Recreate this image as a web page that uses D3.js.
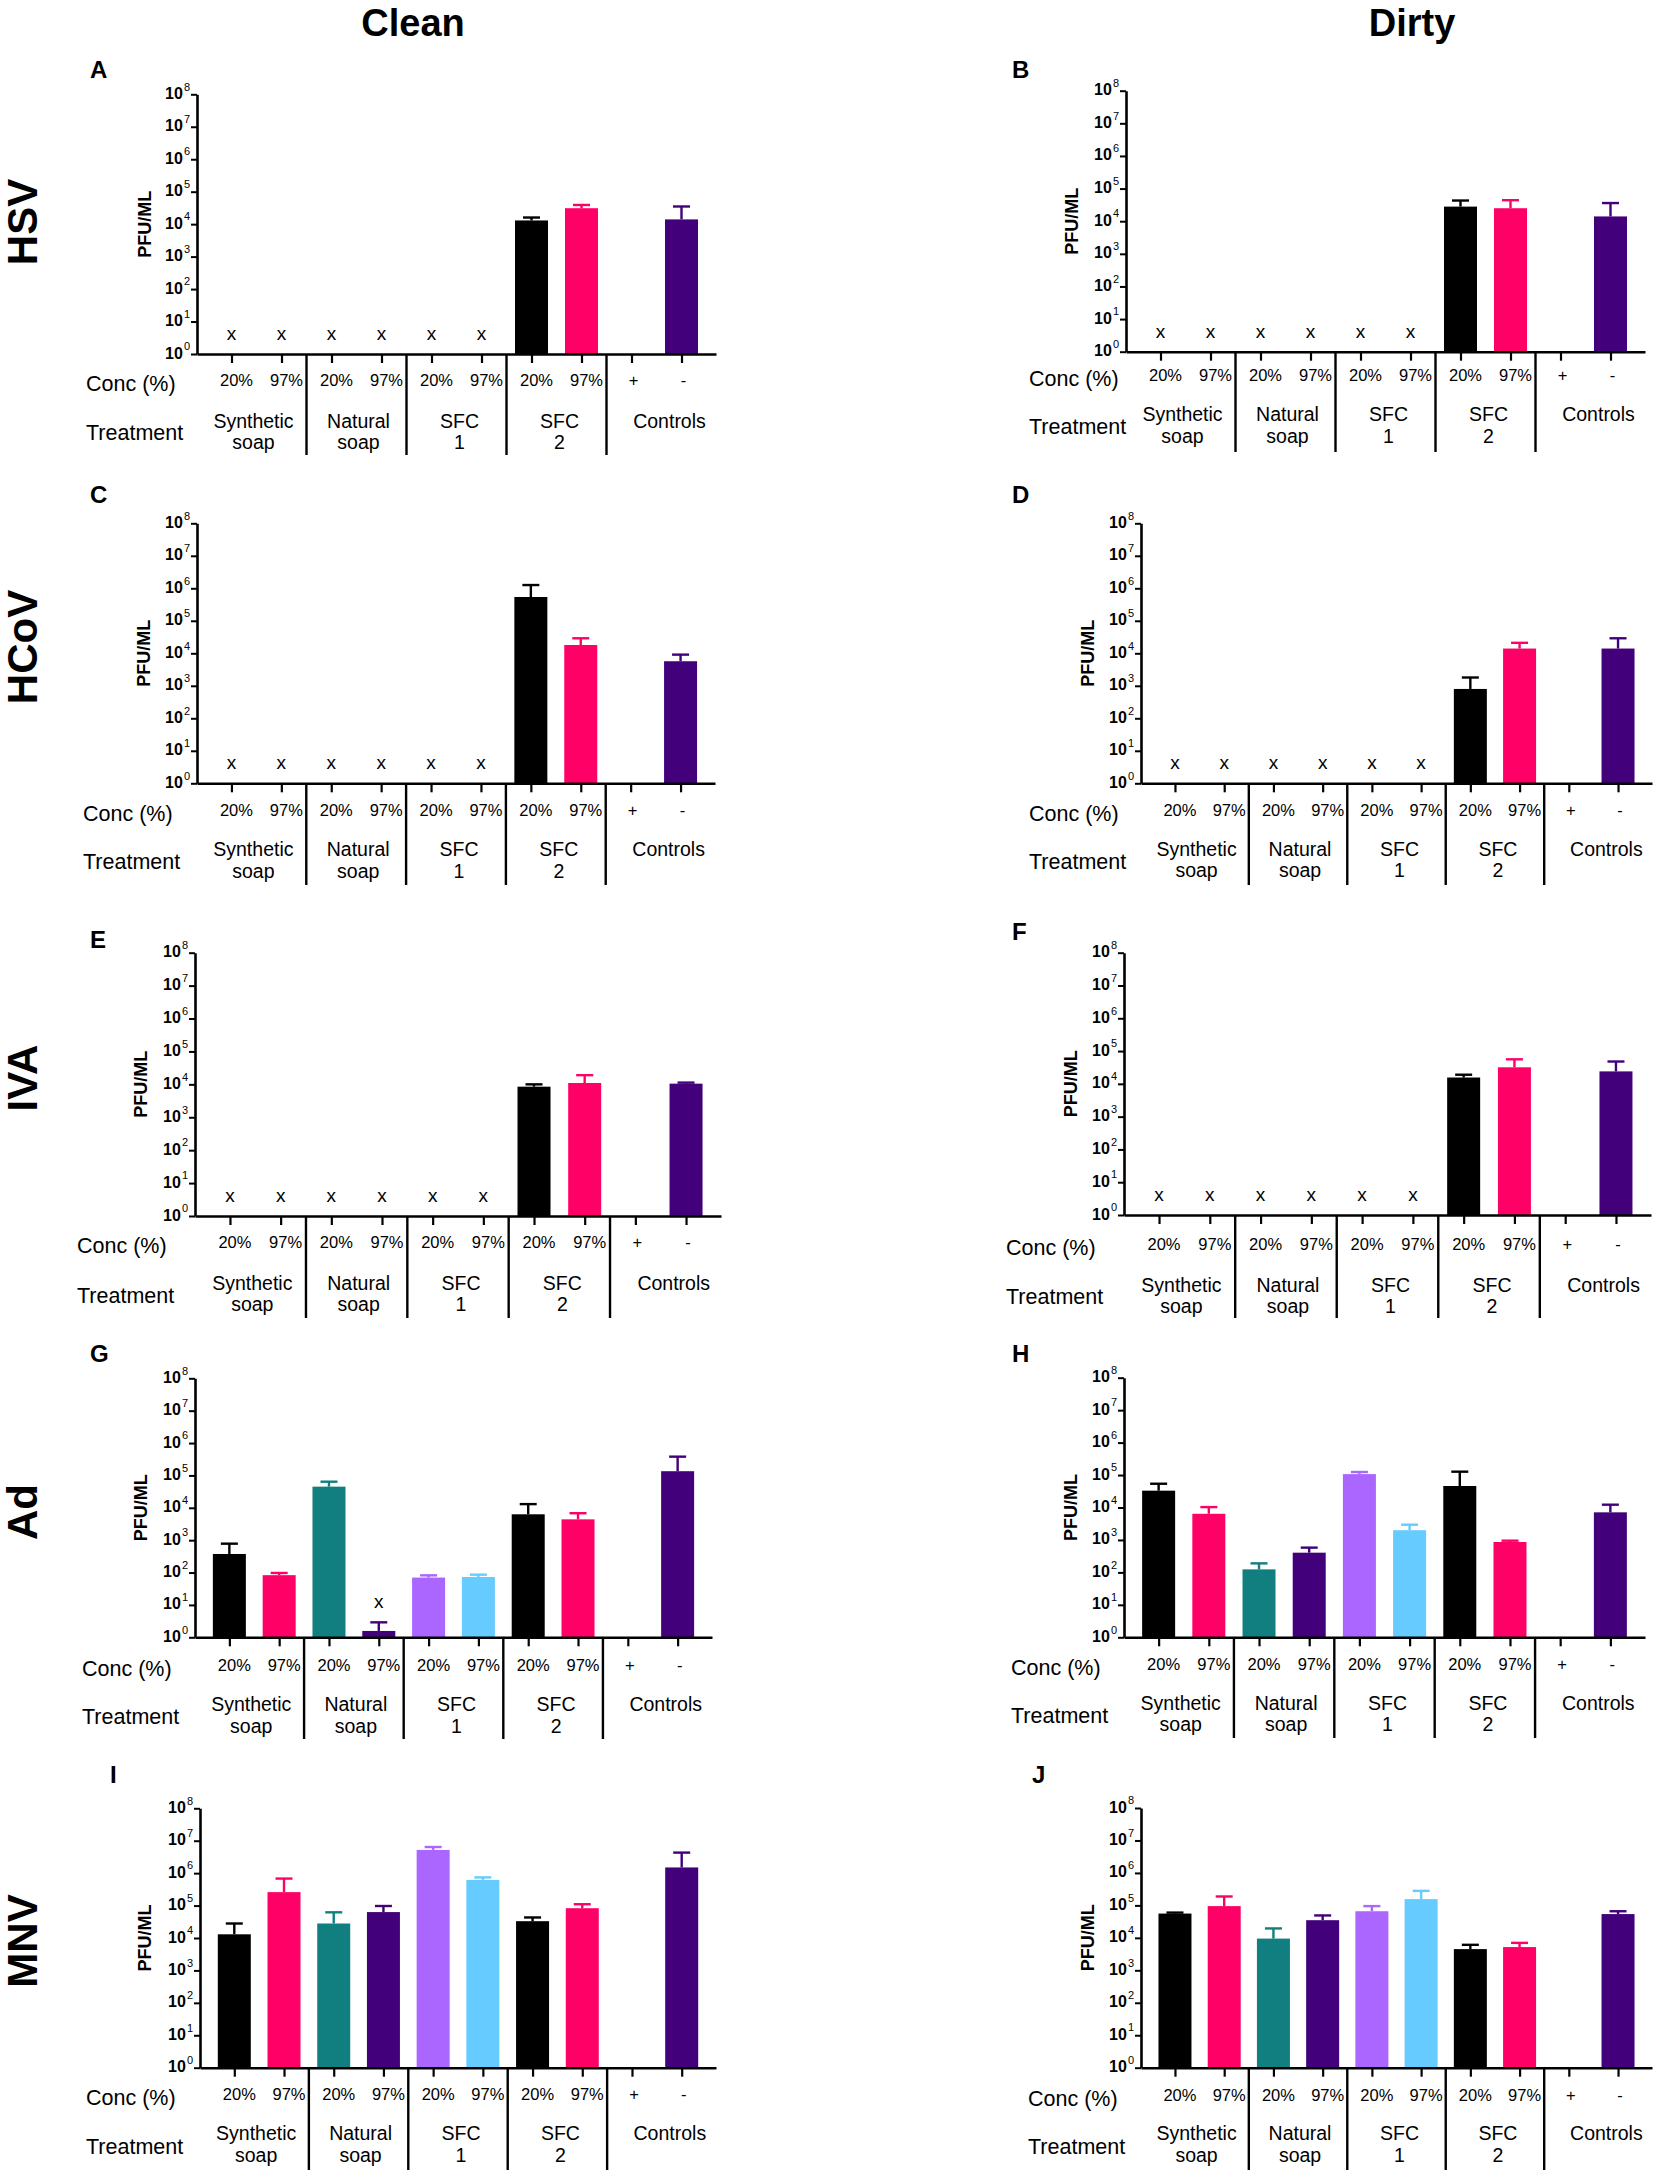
<!DOCTYPE html>
<html>
<head>
<meta charset="utf-8">
<script src="https://cdn.jsdelivr.net/npm/d3@7"></script>
<style>
  body { margin: 0; background: #fff; }
  text { font-family: "Liberation Sans", Arial, sans-serif; fill: #000; }
</style>
</head>
<body>
<svg id="chart" width="1654" height="2170"></svg>
<script>
// categories along every x axis
const categories = ["syn20", "syn97", "nat20", "nat97", "sfc1_20", "sfc1_97", "sfc2_20", "sfc2_97", "ctrlPos", "ctrlNeg"];
const concLabels = ["20%", "97%", "20%", "97%", "20%", "97%", "20%", "97%", "+", "-"];
const treatmentGroups = [["Synthetic", "soap"], ["Natural", "soap"], ["SFC", "1"], ["SFC", "2"], ["Controls"]];
const barColors = ["#000000", "#ff0066", "#117f7f", "#42007a", "#aa66ff", "#66ccff", "#000000", "#ff0066", "#42007a", "#42007a"];
const yTicks = [0, 1, 2, 3, 4, 5, 6, 7, 8];
const columnTitles = ["Clean", "Dirty"];
const virusNames = ["HSV", "HCoV", "IVA", "Ad", "MNV"];
const panelLetters = ["A", "B", "C", "D", "E", "F", "G", "H", "I", "J"];

// PFU/ML means and error tops (null = no bar)
const hsvClean    = [null, null, null, null, null, null, 1.3e4, 3.1e4, null, 1.4e4];
const hsvCleanErr = [null, null, null, null, null, null, 1.6e4, 3.9e4, null, 3.5e4];
const hsvDirty    = [null, null, null, null, null, null, 2.8e4, 2.5e4, null, 1.4e4];
const hsvDirtyErr = [null, null, null, null, null, null, 4.3e4, 4.4e4, null, 3.6e4];
const hcovClean    = [null, null, null, null, null, null, 5.4e5, 1.8e4, null, 5.7e3];
const hcovCleanErr = [null, null, null, null, null, null, 1.26e6, 2.9e4, null, 9.1e3];
const hcovDirty    = [null, null, null, null, null, null, 8.0e2, 1.4e4, null, 1.4e4];
const hcovDirtyErr = [null, null, null, null, null, null, 1.8e3, 2.1e4, null, 2.9e4];
const ivaClean    = [null, null, null, null, null, null, 8.5e3, 1.1e4, null, 1.05e4];
const ivaCleanErr = [null, null, null, null, null, null, 1.0e4, 1.9e4, null, 1.13e4];
const ivaDirty    = [null, null, null, null, null, null, 1.56e4, 3.2e4, null, 2.4e4];
const ivaDirtyErr = [null, null, null, null, null, null, 1.9e4, 5.6e4, null, 4.8e4];
const adClean    = [375, 83, 4.5e4, 1.57, 70, 73, 6.3e3, 4.4e3, null, 1.35e5];
const adCleanErr = [780, 97, 6.4e4, 2.9, 82, 86, 1.3e4, 6.8e3, null, 3.8e5];
const adDirty    = [3.3e4, 6.4e3, 124, 405, 1.07e5, 2.0e3, 4.6e4, 865, null, 7.1e3];
const adDirtyErr = [5.4e4, 1.03e4, 190, 580, 1.24e5, 2.95e3, 1.27e5, 950, null, 1.22e4];
const mnvClean    = [1.3e4, 2.6e5, 2.8e4, 6.3e4, 5.2e6, 6.2e5, 3.3e4, 8.3e4, null, 1.5e6];
const mnvCleanErr = [2.8e4, 6.8e5, 6.2e4, 9.7e4, 6.4e6, 7.4e5, 4.3e4, 1.1e5, null, 4.3e6];
const mnvDirty    = [5.6e4, 9.5e4, 9.5e3, 3.5e4, 6.6e4, 1.56e5, 4.5e3, 5.2e3, null, 5.4e4];
const mnvDirtyErr = [6.0e4, 1.88e5, 1.95e4, 4.9e4, 9.5e4, 2.8e5, 6.1e3, 7.0e3, null, 6.6e4];

// categories marked "x" (below detection)
const notDetectedAll = ["syn20", "syn97", "nat20", "nat97", "sfc1_20", "sfc1_97"];
const notDetectedAdClean = ["nat97"];
const notDetectedNone = [];

// panel geometry (pixels)
const layout = [
  { left: 197, right: 716, top: 94.3, bottom: 354, conc: 383, treat: 432, g1: 421, g2: 442, div: 455, textX: 86, lx: 90, ly: 78, pfuX: 145 },
  { left: 1126, right: 1645, top: 90.7, bottom: 351.7, conc: 378, treat: 426, g1: 414, g2: 436, div: 452, textX: 1029, lx: 1012, ly: 78, pfuX: 1072 },
  { left: 197, right: 715, top: 523.3, bottom: 783.3, conc: 813, treat: 861, g1: 849, g2: 871, div: 885, textX: 83, lx: 90, ly: 503, pfuX: 144 },
  { left: 1141, right: 1652, top: 523.3, bottom: 783.3, conc: 813, treat: 861, g1: 849, g2: 870, div: 885, textX: 1029, lx: 1012, ly: 503, pfuX: 1088 },
  { left: 195, right: 721, top: 952.7, bottom: 1216, conc: 1245, treat: 1295, g1: 1283, g2: 1304, div: 1318, textX: 77, lx: 90, ly: 948, pfuX: 141 },
  { left: 1124, right: 1651, top: 952.7, bottom: 1215, conc: 1247, treat: 1296, g1: 1285, g2: 1306, div: 1318, textX: 1006, lx: 1012, ly: 940, pfuX: 1071 },
  { left: 195, right: 712, top: 1378.3, bottom: 1637.3, conc: 1668, treat: 1716, g1: 1704, g2: 1726, div: 1739, textX: 82, lx: 90, ly: 1362, pfuX: 141 },
  { left: 1124, right: 1645, top: 1377.7, bottom: 1637.3, conc: 1667, treat: 1715, g1: 1703, g2: 1724, div: 1738, textX: 1011, lx: 1012, ly: 1362, pfuX: 1071 },
  { left: 200, right: 716, top: 1808.3, bottom: 2067.7, conc: 2097, treat: 2146, g1: 2133, g2: 2155, div: 2170, textX: 86, lx: 110, ly: 1783, pfuX: 145 },
  { left: 1141, right: 1652, top: 1808, bottom: 2067.7, conc: 2098, treat: 2146, g1: 2133, g2: 2155, div: 2170, textX: 1028, lx: 1032, ly: 1783, pfuX: 1088 },
];
const rowLabelY = [222, 647, 1078, 1512, 1941];
const titleX = [413, 1412];
const groupShift = [-3, 2, 3, 3, 13];

const panelData = [
  [hsvClean, hsvCleanErr, notDetectedAll], [hsvDirty, hsvDirtyErr, notDetectedAll],
  [hcovClean, hcovCleanErr, notDetectedAll], [hcovDirty, hcovDirtyErr, notDetectedAll],
  [ivaClean, ivaCleanErr, notDetectedAll], [ivaDirty, ivaDirtyErr, notDetectedAll],
  [adClean, adCleanErr, notDetectedAdClean], [adDirty, adDirtyErr, notDetectedNone],
  [mnvClean, mnvCleanErr, notDetectedNone], [mnvDirty, mnvDirtyErr, notDetectedNone],
];

const svg = d3.select("#chart");
const AXIS_W = 2.6;
const BAR_W = 33;

columnTitles.forEach((t, i) => {
  svg.append("text").attr("x", titleX[i]).attr("y", 36)
    .attr("text-anchor", "middle").attr("font-size", 38).attr("font-weight", "bold").text(t);
});

virusNames.forEach((v, i) => {
  svg.append("text")
    .attr("transform", `translate(37,${rowLabelY[i]}) rotate(-90)`)
    .attr("text-anchor", "middle").attr("font-size", 42).attr("font-weight", "bold").text(v);
});

function drawPanel(idx) {
  const L = layout[idx];
  const [values, errs, notDetected] = panelData[idx];
  const g = svg.append("g").attr("class", "panel-" + panelLetters[idx]);

  const x = d3.scalePoint().domain(categories).range([L.left, L.right]).padding(0.69);
  const y = d3.scaleLog().domain([1, 1e8]).range([L.bottom, L.top]);

  g.append("text").attr("x", L.lx).attr("y", L.ly)
    .attr("font-size", 24).attr("font-weight", "bold").text(panelLetters[idx]);

  // bars
  const rows = categories.map((c, i) => ({ c, v: values[i], e: errs[i], color: barColors[i] }))
    .filter(d => d.v != null);

  g.selectAll("rect.bar").data(rows).join("rect")
    .attr("class", "bar")
    .attr("x", d => x(d.c) - BAR_W / 2)
    .attr("width", BAR_W)
    .attr("y", d => y(d.v))
    .attr("height", d => y(1) - y(d.v))
    .attr("fill", d => d.color);

  const eb = g.selectAll("g.err").data(rows.filter(d => d.e != null)).join("g").attr("class", "err")
    .attr("stroke", d => d.color).attr("stroke-width", 2.4);
  eb.append("line")
    .attr("x1", d => x(d.c)).attr("x2", d => x(d.c))
    .attr("y1", d => y(d.v)).attr("y2", d => y(d.e));
  eb.append("line")
    .attr("x1", d => x(d.c) - 8.5).attr("x2", d => x(d.c) + 8.5)
    .attr("y1", d => y(d.e)).attr("y2", d => y(d.e));

  // "x" marks for not detected
  g.selectAll("text.nd").data(notDetected).join("text")
    .attr("class", "nd")
    .attr("x", c => x(c))
    .attr("y", c => {
      const i = categories.indexOf(c);
      const top = errs[i] != null ? y(errs[i]) : y(1);
      return top - 14;
    })
    .attr("text-anchor", "middle").attr("font-size", 19).text("x");

  // y axis
  const yAxis = d3.axisLeft(y).tickValues(yTicks.map(p => Math.pow(10, p)))
    .tickSize(6).tickSizeOuter(0).tickFormat(() => "");
  const ya = g.append("g").attr("transform", `translate(${L.left},0)`).call(yAxis);
  ya.select(".domain").attr("stroke-width", AXIS_W);
  ya.selectAll(".tick line").attr("stroke-width", 2);
  ya.selectAll(".tick text").remove();
  ya.selectAll(".tick").append("text")
    .attr("x", -7).attr("y", 0).attr("dy", "0.4em")
    .attr("text-anchor", "end").attr("fill", "#000")
    .each(function (d) {
      const t = d3.select(this);
      t.append("tspan").attr("font-size", 16).attr("font-weight", "bold").text("10");
      t.append("tspan").attr("font-size", 11).attr("dy", "-0.75em").attr("dx", 1)
        .text(Math.round(Math.log10(d)));
    });

  g.append("text")
    .attr("transform", `translate(${L.pfuX + 6},${(L.top + L.bottom) / 2}) rotate(-90)`)
    .attr("text-anchor", "middle").attr("font-size", 18).attr("font-weight", "bold").text("PFU/ML");

  // x axis
  const xAxis = d3.axisBottom(x).tickSize(9).tickSizeOuter(0).tickFormat(() => "");
  const xa = g.append("g").attr("transform", `translate(0,${L.bottom})`).call(xAxis);
  xa.select(".domain").attr("stroke-width", AXIS_W);
  xa.selectAll(".tick line").attr("stroke-width", 2.2);

  // concentration labels
  g.selectAll("text.conc").data(categories).join("text")
    .attr("class", "conc")
    .attr("x", (c, i) => x(c) + (i < 8 ? 5 : 2))
    .attr("y", L.conc - 3).attr("dy", "0.35em")
    .attr("text-anchor", "middle").attr("font-size", 16.5)
    .text((c, i) => concLabels[i]);

  g.append("text").attr("x", L.textX).attr("y", L.conc).attr("dy", "0.35em")
    .attr("font-size", 21.5).text("Conc (%)");
  g.append("text").attr("x", L.textX).attr("y", L.treat).attr("dy", "0.35em")
    .attr("font-size", 21.5).text("Treatment");

  // treatment groups
  treatmentGroups.forEach((lines, gi) => {
    const cx = (x(categories[gi * 2]) + x(categories[gi * 2 + 1])) / 2 + groupShift[gi];
    lines.forEach((s, li) => {
      g.append("text").attr("x", cx).attr("y", li === 0 ? L.g1 : L.g2).attr("dy", "0.35em")
        .attr("text-anchor", "middle").attr("font-size", 19.5).text(s);
    });
    if (gi > 0) {
      const dx = (x(categories[gi * 2 - 1]) + x(categories[gi * 2])) / 2;
      g.append("line").attr("x1", dx).attr("x2", dx)
        .attr("y1", L.bottom).attr("y2", L.div)
        .attr("stroke", "#000").attr("stroke-width", 2.4);
    }
  });
}

panelLetters.forEach((_, i) => drawPanel(i));
</script>
</body>
</html>
